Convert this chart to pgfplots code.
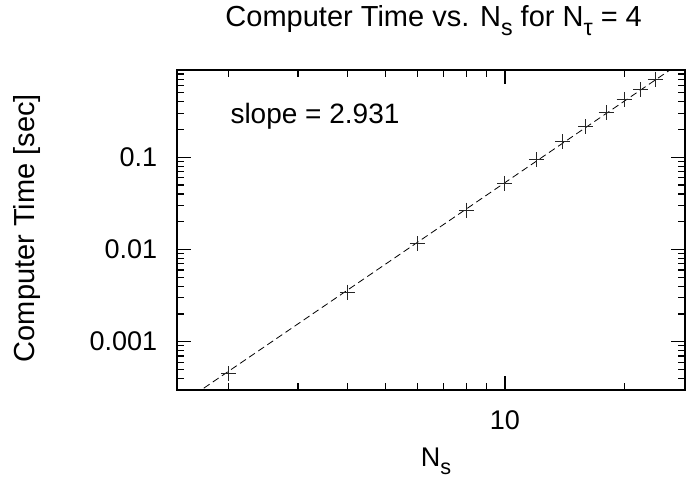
\documentclass[border=0pt]{standalone}
\usepackage{fontspec}
\setmainfont{Liberation Sans}
\usepackage{pgfplots}
\pgfplotsset{compat=1.18}

% gnuplot-style subscript: 0.8 size, dropped
\newcommand\gsub[1]{\raisebox{-0.3em}{\scalebox{0.8}{#1}}}

% timings (N_s, seconds)
\pgfplotstableread{
ns   t
2    4.47e-4
4    3.44e-3
6    1.148e-2
8    2.68e-2
10   5.22e-2
12   9.35e-2
14   0.1476
16   0.215
18   0.305
20   0.426
22   0.537
24   0.706
}\timings

\begin{document}
\begin{tikzpicture}
\path[use as bounding box] (0,0) rectangle (689bp,478bp);
\begin{axis}[
    at={(177.3bp,88bp)}, anchor=south west,
    scale only axis, width=507.7bp, height=320bp,
    xmode=log, ymode=log,
    xmin=1.487, xmax=28.5,
    ymin=2.99e-4, ymax=0.885,
    xtick={10}, xticklabels={10},
    minor xtick={2,3,4,5,6,7,8,9,20},
    ytick={0.001,0.01,0.1}, yticklabels={0.001,0.01,0.1},
    minor ytick={4e-4,5e-4,6e-4,7e-4,8e-4,9e-4,
                 2e-3,3e-3,4e-3,5e-3,6e-3,7e-3,8e-3,9e-3,
                 2e-2,3e-2,4e-2,5e-2,6e-2,7e-2,8e-2,9e-2,
                 0.2,0.3,0.4,0.5,0.6,0.7,0.8},
    xtick pos=both, ytick pos=both,
    tick align=inside,
    major tick length=14bp, minor tick length=7bp,
    every tick/.style={black, line width=1.2bp},
    axis line style={line width=1.8bp},
    tick label style={font=\fontsize{27bp}{31bp}\selectfont, inner sep=0pt},
    yticklabel style={xshift=-20bp},
    xticklabel style={yshift=-20bp},
    title={Computer Time vs. N\gsub{s} for N\gsub{τ} = 4},
    title style={font=\fontsize{29bp}{33bp}\selectfont, inner sep=0pt,
        at={(axis description cs:0.505,1.1178)}, anchor=base},
    xlabel={N\gsub{s}},
    xlabel style={font=\fontsize{27bp}{31bp}\selectfont, inner sep=0pt,
        at={(axis description cs:0.5096,-0.2400)}, anchor=base},
    ylabel={Computer Time [sec]},
    ylabel style={font=\fontsize{29bp}{33bp}\selectfont, inner sep=0pt,
        at={(axis description cs:-0.2803,0.506)}, anchor=base},
]
% fitted power law, slope 2.931
\addplot[black, line width=0.8bp, dash pattern=on 7bp off 4bp]
    coordinates {(1.48,1.965e-4) (28.6,1.156)};
\addplot[only marks, mark=+, mark size=7.5bp, black!85,
         mark options={line width=1bp}] table[x=ns, y=t] {\timings};
\node[anchor=base west, font=\fontsize{28bp}{32bp}\selectfont]
    at (axis description cs:0.0979,0.8334) {slope = 2.931};
\end{axis}
\end{tikzpicture}
\end{document}
